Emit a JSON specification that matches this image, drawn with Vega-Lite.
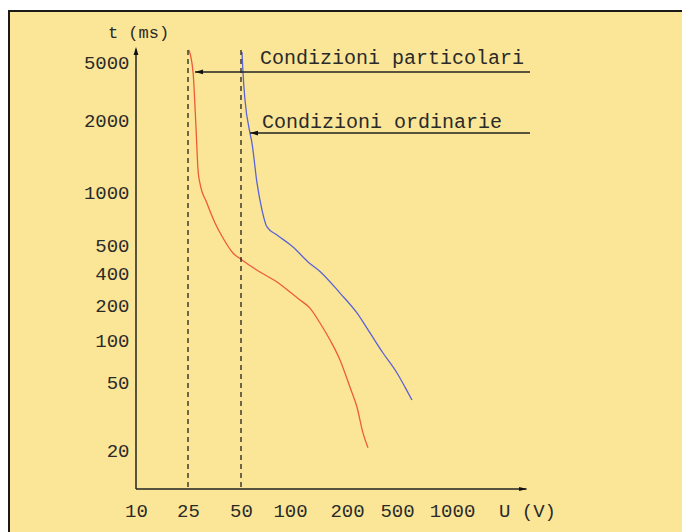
{
  "$schema": "https://vega.github.io/schema/vega-lite/v6.json",
  "width": 680,
  "height": 530,
  "autosize": {"type": "none"},
  "padding": {"left": 9, "top": 11, "right": 0, "bottom": 0},
  "background": "#ffffff",
  "config": {
    "view": {"fill": "#FBE697", "stroke": "#1a1a1a", "strokeWidth": 2},
    "axis": {
      "grid": false, "domain": false, "ticks": false, "tickSize": 0,
      "labelFont": "Liberation Mono", "labelFontSize": 19, "labelColor": "#2a2a2a",
      "labelOverlap": false, "labelFlush": false, "labelBound": false
    }
  },
  "layer": [
    {
      "data": {"values": [
        {"series": "particolari", "i": 1, "U": 25.3, "t": 7300},
        {"series": "particolari", "i": 2, "U": 26.7, "t": 4300},
        {"series": "particolari", "i": 3, "U": 27.8, "t": 1816},
        {"series": "particolari", "i": 4, "U": 28.5, "t": 1236},
        {"series": "particolari", "i": 5, "U": 29.2, "t": 1091},
        {"series": "particolari", "i": 6, "U": 32.0, "t": 866},
        {"series": "particolari", "i": 7, "U": 35.6, "t": 667},
        {"series": "particolari", "i": 8, "U": 39.5, "t": 548},
        {"series": "particolari", "i": 9, "U": 45.0, "t": 469},
        {"series": "particolari", "i": 10, "U": 50.7, "t": 444},
        {"series": "particolari", "i": 11, "U": 65.4, "t": 403},
        {"series": "particolari", "i": 12, "U": 83.2, "t": 329},
        {"series": "particolari", "i": 13, "U": 100, "t": 265},
        {"series": "particolari", "i": 14, "U": 112.9, "t": 223},
        {"series": "particolari", "i": 15, "U": 127.5, "t": 188},
        {"series": "particolari", "i": 16, "U": 144, "t": 140},
        {"series": "particolari", "i": 17, "U": 162.7, "t": 100},
        {"series": "particolari", "i": 18, "U": 183.7, "t": 71.9},
        {"series": "particolari", "i": 19, "U": 211, "t": 46.7},
        {"series": "particolari", "i": 20, "U": 240, "t": 35.7},
        {"series": "particolari", "i": 21, "U": 268, "t": 25.2},
        {"series": "particolari", "i": 22, "U": 294, "t": 20.6},
        {"series": "ordinarie", "i": 1, "U": 50.7, "t": 6873},
        {"series": "ordinarie", "i": 2, "U": 51.4, "t": 4300},
        {"series": "ordinarie", "i": 3, "U": 52.9, "t": 2752},
        {"series": "ordinarie", "i": 4, "U": 56.8, "t": 1764},
        {"series": "ordinarie", "i": 5, "U": 58.4, "t": 1602},
        {"series": "ordinarie", "i": 6, "U": 62.7, "t": 1091},
        {"series": "ordinarie", "i": 7, "U": 67.3, "t": 790},
        {"series": "ordinarie", "i": 8, "U": 72.2, "t": 633},
        {"series": "ordinarie", "i": 9, "U": 83.2, "t": 570},
        {"series": "ordinarie", "i": 10, "U": 103.7, "t": 492},
        {"series": "ordinarie", "i": 11, "U": 124.5, "t": 437},
        {"series": "ordinarie", "i": 12, "U": 144, "t": 405},
        {"series": "ordinarie", "i": 13, "U": 183.7, "t": 259},
        {"series": "ordinarie", "i": 14, "U": 240, "t": 171},
        {"series": "ordinarie", "i": 15, "U": 305, "t": 115},
        {"series": "ordinarie", "i": 16, "U": 387, "t": 80.7},
        {"series": "ordinarie", "i": 17, "U": 500, "t": 58.0},
        {"series": "ordinarie", "i": 18, "U": 553, "t": 46.7},
        {"series": "ordinarie", "i": 19, "U": 604, "t": 39.2}
      ]},
      "mark": {"type": "line", "strokeWidth": 1.3, "interpolate": "monotone"},
      "encoding": {
        "x": {
          "field": "U", "type": "quantitative",
          "scale": {"type": "log", "nice": false, "zero": false,
            "domain": [1, 10, 25, 50, 100, 200, 500, 1000, 2000, 100000],
            "range": [0, 127, 179, 232, 281, 338, 388, 443, 518, 680]},
          "axis": {"orient": "bottom", "offset": -52, "labelPadding": 21, "labelBaseline": "middle",
            "values": [10, 25, 50, 100, 200, 500, 1000, 2000], "format": "d",
            "labelExpr": "datum.value == 2000 ? 'U (V)' : datum.label", "title": null}
        },
        "y": {
          "field": "t", "type": "quantitative",
          "scale": {"type": "log", "nice": false, "zero": false,
            "domain": [1, 10, 20, 50, 100, 200, 400, 500, 1000, 2000, 5000, 8000, 100000],
            "range": [530, 478, 439, 371, 329, 294, 262, 234, 181, 109, 51.5, 36, 0]},
          "axis": {"orient": "left", "offset": -120, "labelPadding": 0,
            "values": [20, 50, 100, 200, 400, 500, 1000, 2000, 5000], "format": "d",
            "title": "t (ms)", "titleAngle": 0, "titleFont": "Liberation Mono", "titleFontSize": 17,
            "titleFontWeight": "normal", "titleColor": "#2a2a2a", "titleX": 9, "titleY": 21,
            "titleAlign": "center", "titleBaseline": "middle"}
        },
        "color": {"field": "series", "type": "nominal",
          "scale": {"domain": ["particolari", "ordinarie"], "range": ["#EE5A3C", "#5B63D6"]},
          "legend": null},
        "order": {"field": "i", "type": "quantitative"}
      }
    },
    {
      "data": {"values": [
        {"U": 25, "t": 7300, "t2": 10},
        {"U": 50, "t": 7300, "t2": 10}
      ]},
      "mark": {"type": "rule", "color": "#111111", "strokeWidth": 1.2, "strokeDash": [5, 4]},
      "encoding": {
        "x": {"field": "U", "type": "quantitative"},
        "y": {"field": "t", "type": "quantitative"},
        "y2": {"field": "t2"}
      }
    },
    {
      "data": {"values": [
        {"U": 10, "t": 10, "U2": 10, "t2": 7400},
        {"U": 10, "t": 10, "U2": 1990, "t2": 10},
        {"U": 27.4, "t": 4300, "U2": 2150, "t2": 4300},
        {"U": 56.8, "t": 1764, "U2": 2150, "t2": 1764}
      ]},
      "mark": {"type": "rule", "color": "#222222", "strokeWidth": 1.5},
      "encoding": {
        "x": {"field": "U", "type": "quantitative"},
        "x2": {"field": "U2"},
        "y": {"field": "t", "type": "quantitative"},
        "y2": {"field": "t2"}
      }
    },
    {
      "data": {"values": [
        {"U": 28.9, "t": 4300, "dir": "left"},
        {"U": 60.1, "t": 1764, "dir": "left"},
        {"U": 10, "t": 7088, "dir": "up"},
        {"U": 1928, "t": 10, "dir": "right"}
      ]},
      "mark": {"type": "point", "filled": true, "color": "#111111", "opacity": 1, "size": 64, "strokeWidth": 0},
      "encoding": {
        "x": {"field": "U", "type": "quantitative"},
        "y": {"field": "t", "type": "quantitative"},
        "shape": {"field": "dir", "type": "nominal", "legend": null,
          "scale": {"domain": ["left", "up", "right"],
            "range": ["M1,-0.6L-1,0L1,0.6Z", "M-0.6,1L0,-1L0.6,1Z", "M-1,-0.5L1,0L-1,0.5Z"]}}
      }
    },
    {
      "data": {"values": [
        {"U": 65.4, "t": 5730, "label": "Condizioni particolari"},
        {"U": 67.3, "t": 1962, "label": "Condizioni ordinarie"}
      ]},
      "mark": {"type": "text", "align": "left", "baseline": "middle", "font": "Liberation Mono", "fontSize": 20, "color": "#2a2a2a"},
      "encoding": {
        "x": {"field": "U", "type": "quantitative"},
        "y": {"field": "t", "type": "quantitative"},
        "text": {"field": "label"}
      }
    }
  ]
}
